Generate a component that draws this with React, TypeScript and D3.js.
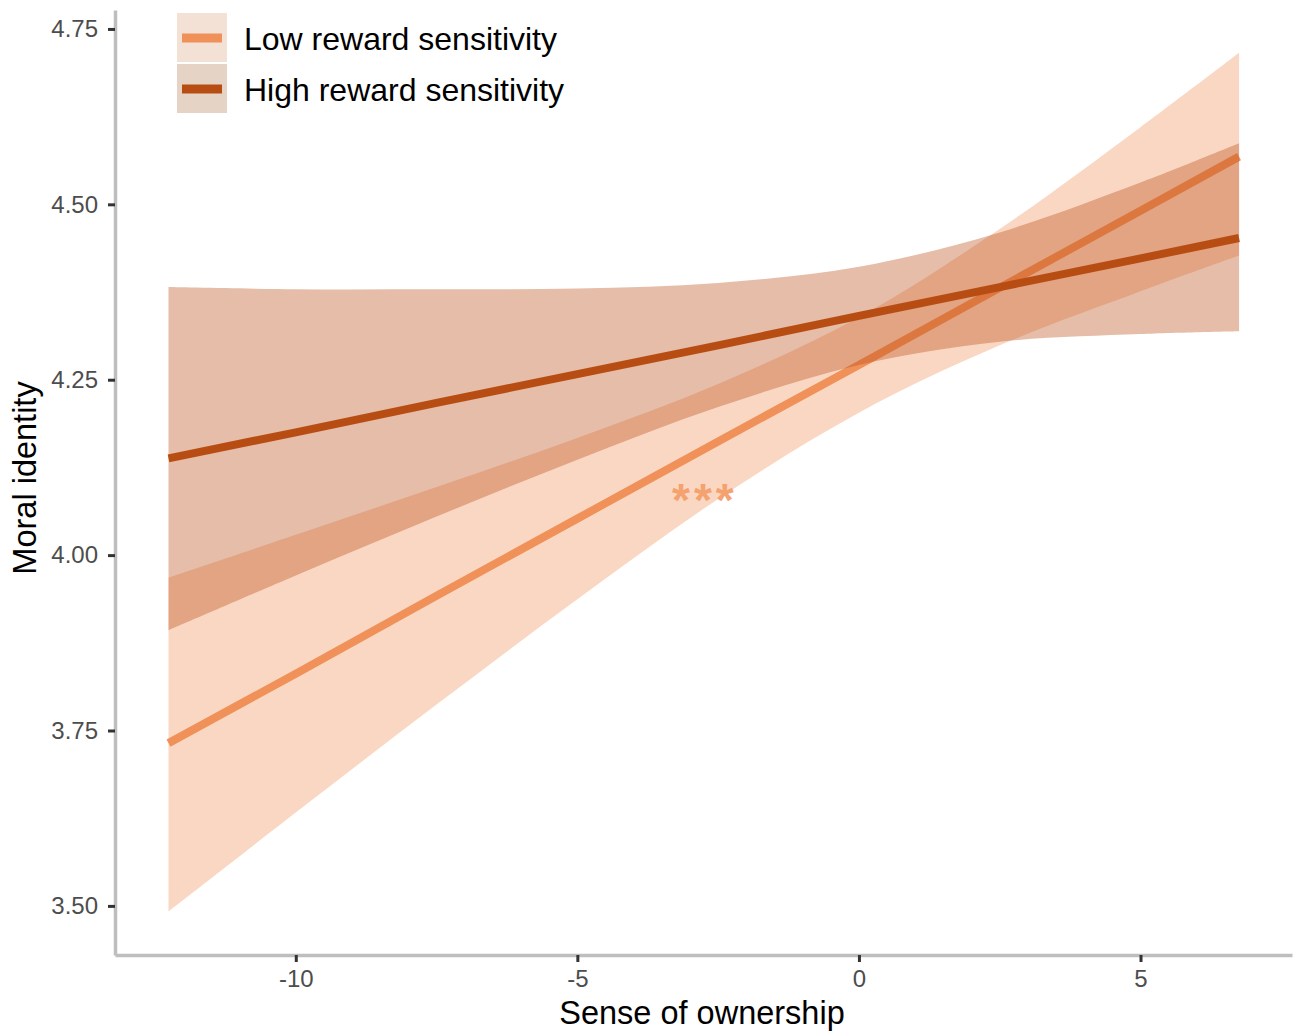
import React, { useEffect, useRef } from "react";
import * as d3 from "d3";

// fitted lines + 95% bands
const ownership = [-12.26, -10, -7.5, -5, -2.5, 0, 2.5, 5, 6.75];
const lowFit = [3.732, 3.831, 3.942, 4.052, 4.162, 4.271, 4.381, 4.491, 4.568];
const lowUpper = [3.968, 4.029, 4.097, 4.167, 4.244, 4.339, 4.465, 4.61, 4.716];
const lowLower = [3.492, 3.633, 3.787, 3.937, 4.08, 4.203, 4.299, 4.376, 4.427];
const highFit = [4.138, 4.175, 4.217, 4.258, 4.299, 4.341, 4.382, 4.423, 4.452];
const highUpper = [4.382, 4.379, 4.379, 4.38, 4.388, 4.411, 4.46, 4.531, 4.587];
const highLower = [3.893, 3.971, 4.055, 4.136, 4.211, 4.271, 4.304, 4.315, 4.319];

const groups = ["Low reward sensitivity", "High reward sensitivity"];
const xTicks = [-10, -5, 0, 5];
const yTicks = [3.5, 3.75, 4.0, 4.25, 4.5, 4.75];
const starLabel = "***";
const starPos = [-2.77, 4.09];

const W = 1295;
const H = 1032;
const FONT = "'Liberation Sans', Arial, sans-serif";

function App() {
  const ref = useRef<SVGSVGElement>(null);

  useEffect(() => {
    const svg = d3.select(ref.current);
    svg.selectAll("*").remove();

    const x = d3.scaleLinear().domain([-13.21, 7.69]).range([115, 1292]);
    const y = d3.scaleLinear().domain([3.43, 4.777]).range([955, 10]);

    const series = [
      { fit: lowFit, up: lowUpper, lo: lowLower, color: "#f0915a", alpha: 0.36 },
      { fit: highFit, up: highUpper, lo: highLower, color: "#b84d14", alpha: 0.37 },
    ];

    const plot = svg.append("g");
    series.forEach((s) => {
      const pts = ownership.map((v, i) => ({ x: v, fit: s.fit[i], up: s.up[i], lo: s.lo[i] }));
      plot
        .append("path")
        .datum(pts)
        .attr("fill", s.color)
        .attr("fill-opacity", s.alpha)
        .attr(
          "d",
          d3
            .area<any>()
            .curve(d3.curveCatmullRom)
            .x((d) => x(d.x))
            .y0((d) => y(d.lo))
            .y1((d) => y(d.up))
        );
      plot
        .append("path")
        .datum(pts)
        .attr("fill", "none")
        .attr("stroke", s.color)
        .attr("stroke-width", 8)
        .attr(
          "d",
          d3
            .line<any>()
            .x((d) => x(d.x))
            .y((d) => y(d.fit))
        );
    });

    plot
      .append("text")
      .attr("x", x(starPos[0]) + 2)
      .attr("y", y(starPos[1]) + 24)
      .attr("text-anchor", "middle")
      .attr("font-family", FONT)
      .attr("font-weight", "bold")
      .attr("font-size", 46)
      .attr("letter-spacing", 4)
      .attr("fill", "#f4a26f")
      .text(starLabel);

    // axes
    const yAxis = svg
      .append("g")
      .attr("transform", "translate(115,0)")
      .call(
        d3
          .axisLeft(y)
          .tickValues(yTicks)
          .tickFormat((d: any) => d3.format(".2f")(d))
          .tickSize(7)
          .tickSizeOuter(0)
          .tickPadding(10)
      );
    const xAxis = svg
      .append("g")
      .attr("transform", "translate(0,955)")
      .call(
        d3
          .axisBottom(x)
          .tickValues(xTicks)
          .tickFormat((d: any) => String(d))
          .tickSize(7)
          .tickSizeOuter(0)
          .tickPadding(8)
      );
    [yAxis, xAxis].forEach((ax) => {
      ax.select(".domain").attr("stroke", "#bebebe").attr("stroke-width", 3.5);
      ax.selectAll(".tick line").attr("stroke", "#333333").attr("stroke-width", 3);
      ax.selectAll(".tick text")
        .attr("fill", "#4d4d4d")
        .attr("font-family", FONT)
        .attr("font-size", 24);
    });

    svg
      .append("text")
      .attr("x", 702)
      .attr("y", 1024)
      .attr("text-anchor", "middle")
      .attr("font-family", FONT)
      .attr("font-size", 32.5)
      .attr("fill", "black")
      .text("Sense of ownership");
    svg
      .append("text")
      .attr("transform", "translate(36,478) rotate(-90)")
      .attr("text-anchor", "middle")
      .attr("font-family", FONT)
      .attr("font-size", 32.5)
      .attr("fill", "black")
      .text("Moral identity");

    // legend
    const keyFill = ["#f3e1d6", "#e5d3c6"];
    const legend = svg.append("g").attr("transform", "translate(177,13)");
    groups.forEach((g, i) => {
      const row = legend.append("g").attr("transform", "translate(0," + i * 51 + ")");
      row.append("rect").attr("width", 50).attr("height", 49).attr("fill", keyFill[i]);
      row
        .append("line")
        .attr("x1", 5)
        .attr("x2", 45)
        .attr("y1", 25)
        .attr("y2", 25)
        .attr("stroke", series[i].color)
        .attr("stroke-width", 9);
      row
        .append("text")
        .attr("x", 67)
        .attr("y", 37)
        .attr("font-family", FONT)
        .attr("font-size", 32)
        .attr("fill", "black")
        .text(g);
    });
  }, []);

  return (
    <svg
      ref={ref}
      width={W}
      height={H}
      style={{ position: "absolute", left: 0, top: 0, background: "white" }}
    />
  );
}

export default App;
